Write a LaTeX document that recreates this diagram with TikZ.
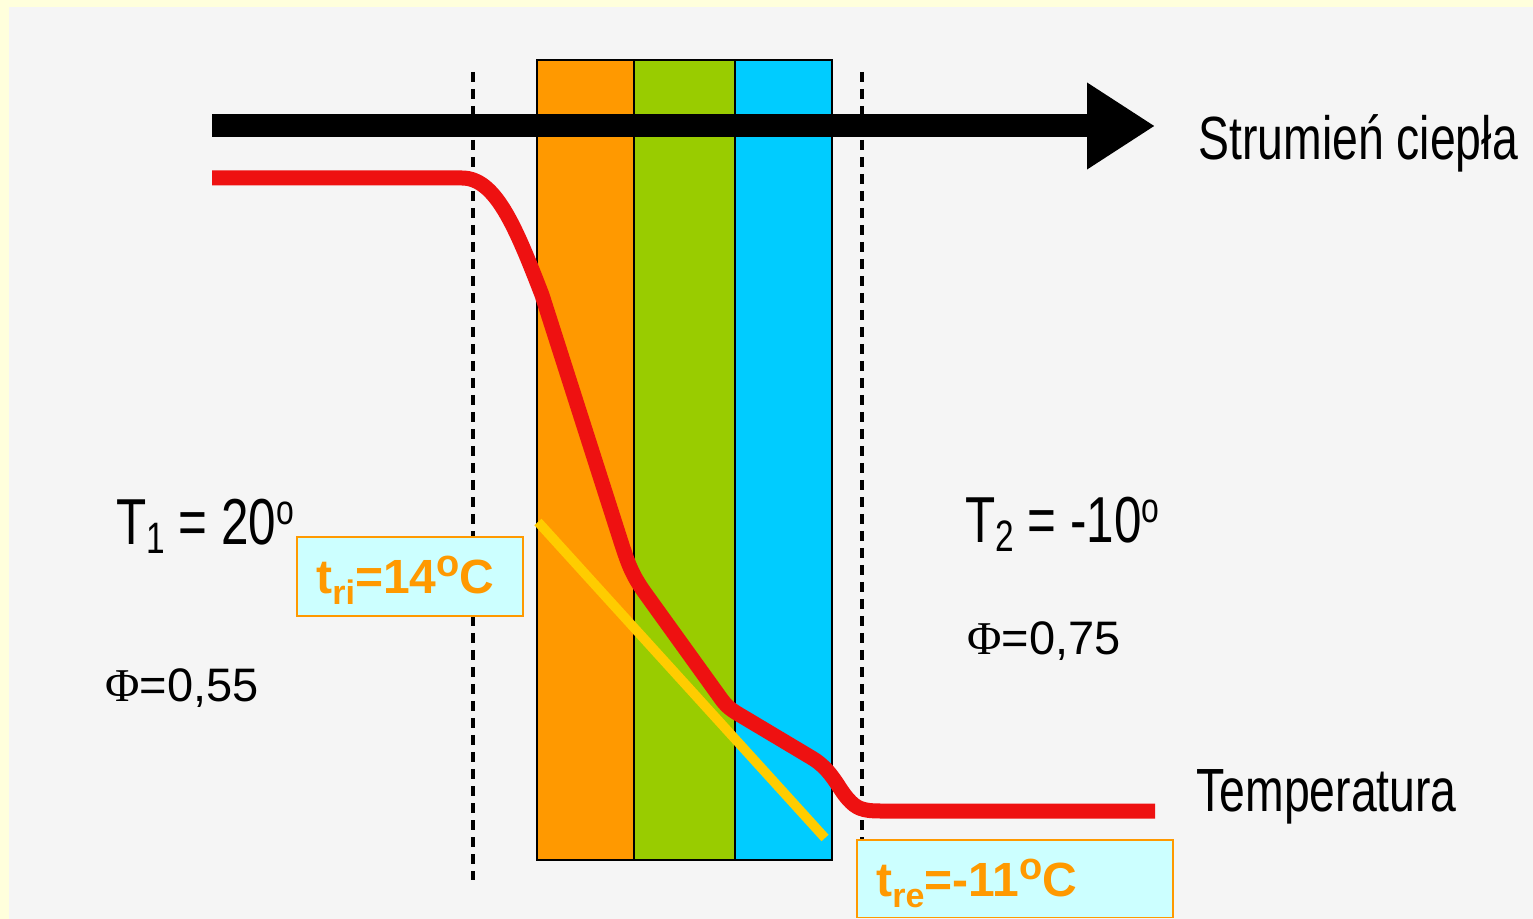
\documentclass[tikz,border=0pt]{standalone}
\usepackage{fontspec}
\setmainfont{Liberation Sans}
\newfontfamily\phifont{Liberation Serif}
\usepackage{graphicx}
\usetikzlibrary{arrows.meta}
\definecolor{bordery}{HTML}{FFFFDC}
\definecolor{bggray}{HTML}{F5F5F5}
\definecolor{layerorange}{HTML}{FF9900}
\definecolor{layergreen}{HTML}{99CC00}
\definecolor{layerblue}{HTML}{00CCFF}
\definecolor{tempred}{HTML}{EE1111}
\definecolor{lineyellow}{HTML}{FFCC00}
\definecolor{boxfill}{HTML}{CCFFFF}
\definecolor{boxorange}{HTML}{FF9900}
\newcommand{\condtxt}[1]{\fontsize{30.5}{36}\selectfont\scalebox{0.76}[1]{#1}}
\newcommand{\tlabel}[2]{\fontsize{32.5}{38}\selectfont\scalebox{0.76}[1]{T\raisebox{-4.5pt}{\fontsize{22}{26}\selectfont #1} #2\raisebox{10pt}{\fontsize{21}{24}\selectfont o}}}
\newcommand{\boxtxt}[2]{\fontsize{24}{30}\selectfont\bfseries t\raisebox{-5.5pt}{\fontsize{17}{20}\selectfont #1}#2}
\newcommand{\degs}{\raisebox{8.5pt}{\fontsize{19}{22}\selectfont o}}
\begin{document}
\begin{tikzpicture}[x=0.5pt,y=-0.5pt,
  layer/.style={draw=black,line width=1pt},
  guide/.style={draw=black,line width=1.8pt,dash pattern=on 5pt off 3.5pt},
  txt/.style={anchor=base west,inner sep=0pt,text=black},
  phitxt/.style={anchor=base west,inner sep=0pt,font=\fontsize{23.5}{28}\selectfont},
  valbox/.style={draw=boxorange,fill=boxfill,line width=0.8pt},
  valtxt/.style={anchor=base west,inner sep=0pt,text=boxorange}]
\useasboundingbox (0,0) rectangle (1533,919);
\fill[bordery] (0,0) rectangle (1533,919);
\fill[bggray] (9,7) rectangle (1533,919);
% dashed guides
\coordinate (g1t) at (473,72); \coordinate (g1b) at (473,880);
\coordinate (g2t) at (862,72); \coordinate (g2b) at (862,880);
\draw[guide] (g1t) -- (g1b);
\draw[guide] (g2t) -- (g2b);
% layers
\draw[layer,fill=layerorange] (537,60) rectangle (634,860);
\draw[layer,fill=layergreen] (634,60) rectangle (735,860);
\draw[layer,fill=layerblue] (735,60) rectangle (832,860);
% heat flow arrow
\coordinate (hs) at (212,126);
\coordinate (he) at (1155,126);
\draw[line width=11.5pt,-{Triangle[length=34pt,width=41pt]}] (hs) -- (he);
% temperature curve
\draw[tempred,line width=7.5pt,line join=round] (212,178) -- (462,178)
  .. controls (495,178) and (515,225) .. (542,295) -- (622,545)
  .. controls (628,563) and (632,575) .. (645,593) -- (722,700)
  .. controls (728,708) and (733,711) .. (745,718) -- (812,758)
  .. controls (832,770) and (838,788) .. (848,799)
  .. controls (856,808) and (862,811) .. (880,811) -- (1155,811);
% yellow line
\coordinate (ya) at (538,522);
\coordinate (yb) at (825,838);
\draw[lineyellow,line width=4.8pt] (ya) -- (yb);
% value boxes
\draw[valbox] (297,537) rectangle (523,616);
\node[valtxt] (tri) at (316,594) {\boxtxt{ri}{=14\degs C}};
\draw[valbox] (857,840) rectangle (1173,917.5);
\node[valtxt] (tre) at (876,896) {\boxtxt{re}{=-11\degs C}};
% labels
\node[txt] (flow) at (1198,160) {\condtxt{Strumień ciepła}};
\node[txt] (temp) at (1196,812) {\condtxt{Temperatura}};
\node[txt] (t1) at (116,545) {\tlabel{1}{= 20}};
\node[txt] (t2) at (965,543) {\tlabel{2}{= -10}};
\node[phitxt] (phi1) at (105,702) {{\phifont Φ}=0,55};
\node[phitxt] (phi2) at (967,655) {{\phifont Φ}=0,75};
\end{tikzpicture}
\end{document}
